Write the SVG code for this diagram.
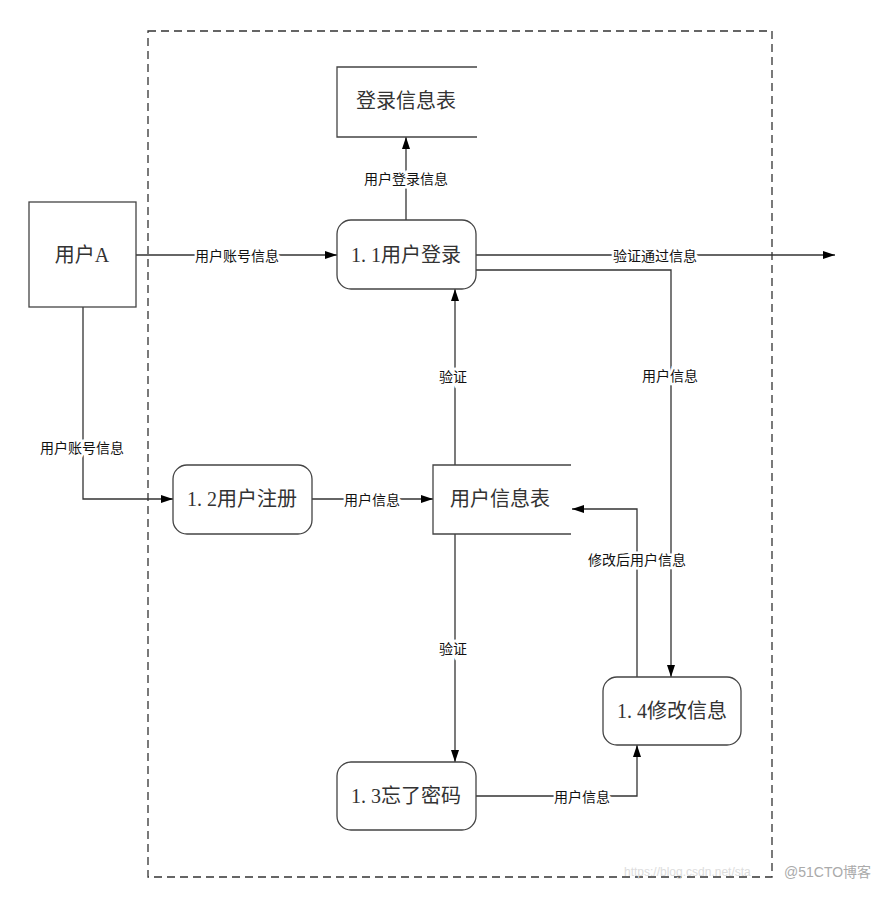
<svg xmlns="http://www.w3.org/2000/svg" width="893" height="897" viewBox="0 0 893 897">
<style>
.box{fill:#fff;stroke:#444;stroke-width:1.3}
.ln{fill:none;stroke:#333;stroke-width:1.3}
.nt{font-family:"Liberation Serif","Noto Sans CJK SC",serif;font-size:20px;fill:#333;text-anchor:middle;dominant-baseline:central}
.lb{font-family:"Noto Sans CJK SC","Liberation Sans",sans-serif;font-size:14px;fill:#111;text-anchor:middle;dominant-baseline:central;stroke:#fff;stroke-width:5;paint-order:stroke}
</style>
<defs>
<marker id="ah" viewBox="0 0 12 8" refX="12" refY="4" markerWidth="12" markerHeight="8" markerUnits="userSpaceOnUse" orient="auto">
<path d="M0,0 L12,4 L0,8 Z" fill="#000"/>
</marker>
</defs>
<rect width="893" height="897" fill="#fff"/>
<rect x="148" y="31" width="624" height="846" fill="none" stroke="#333" stroke-width="1.3" stroke-dasharray="8,5"/>
<g id="connectors">
<path class="ln" d="M406,220 V137" marker-end="url(#ah)"/>
<text class="lb" x="406" y="178">用户登录信息</text>
<path class="ln" d="M136,255 H337" marker-end="url(#ah)"/>
<text class="lb" x="237" y="255">用户账号信息</text>
<path class="ln" d="M83,307 V499 H173" marker-end="url(#ah)"/>
<text class="lb" x="82" y="447">用户账号信息</text>
<path class="ln" d="M312,499 H433" marker-end="url(#ah)"/>
<text class="lb" x="372" y="499">用户信息</text>
<path class="ln" d="M476,255 H835" marker-end="url(#ah)"/>
<text class="lb" x="655" y="255">验证通过信息</text>
<path class="ln" d="M476,270 H671 V677" marker-end="url(#ah)"/>
<text class="lb" x="670" y="375">用户信息</text>
<path class="ln" d="M455,465 V289" marker-end="url(#ah)"/>
<text class="lb" x="453" y="376">验证</text>
<path class="ln" d="M455,534 V762" marker-end="url(#ah)"/>
<text class="lb" x="453" y="648">验证</text>
<path class="ln" d="M637,677 V509 H572" marker-end="url(#ah)"/>
<text class="lb" x="637" y="559">修改后用户信息</text>
<path class="ln" d="M476,796 H637 V745" marker-end="url(#ah)"/>
<text class="lb" x="582" y="796">用户信息</text>
</g>
<g id="store-login">
<path class="box" d="M477,67 H337 V137 H477"/>
<text class="nt" x="406" y="101">登录信息表</text>
</g>
<g id="userA">
<rect class="box" x="29" y="202" width="107" height="105"/>
<text class="nt" x="82" y="255">用户A</text>
</g>
<g id="p11">
<rect class="box" x="337" y="220" width="139" height="69" rx="14"/>
<text class="nt" x="406" y="255">1. 1用户登录</text>
</g>
<g id="p12">
<rect class="box" x="173" y="465" width="139" height="69" rx="14"/>
<text class="nt" x="242" y="499">1. 2用户注册</text>
</g>
<g id="store-user">
<path class="box" d="M571,465 H433 V534 H571"/>
<text class="nt" x="500" y="499">用户信息表</text>
</g>
<g id="p14">
<rect class="box" x="603" y="677" width="138" height="68" rx="14"/>
<text class="nt" x="672" y="711">1. 4修改信息</text>
</g>
<g id="p13">
<rect class="box" x="337" y="762" width="139" height="68" rx="14"/>
<text class="nt" x="406" y="796">1. 3忘了密码</text>
</g>
<g id="watermark">
<text x="624" y="876" font-family="Liberation Sans,sans-serif" font-size="12" fill="#ddd">https://blog.csdn.net/sta</text>
<text x="784" y="877" font-family="Liberation Sans,'Noto Sans CJK SC',sans-serif" font-size="14" fill="#aaa">@51CTO博客</text>
</g>
</svg>
